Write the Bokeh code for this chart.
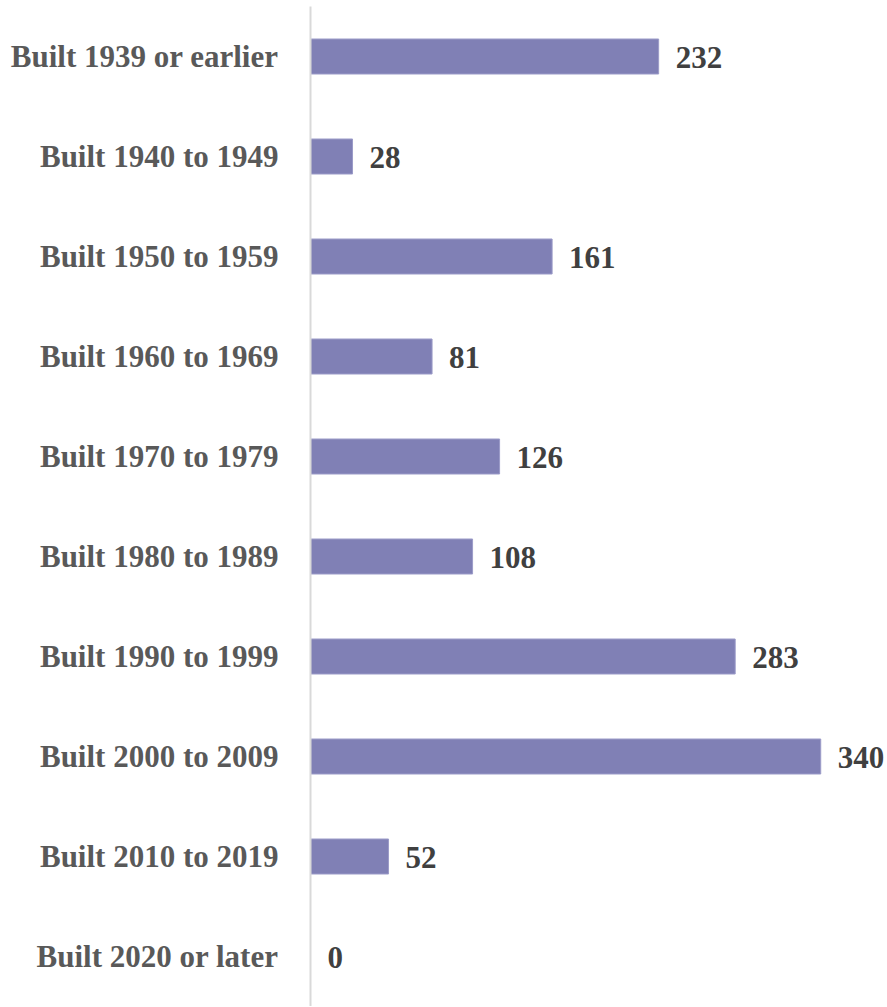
from bokeh.plotting import figure
from bokeh.models import FactorRange, Range1d, ColumnDataSource
from bokeh.core.properties import value
from bokeh.embed import file_html
from bokeh.resources import INLINE

categories = ["Built 1939 or earlier", "Built 1940 to 1949", "Built 1950 to 1959",
              "Built 1960 to 1969", "Built 1970 to 1979", "Built 1980 to 1989",
              "Built 1990 to 1999", "Built 2000 to 2009", "Built 2010 to 2019",
              "Built 2020 or later"]
counts = [232, 28, 161, 81, 126, 108, 283, 340, 52, 0]
labels = [str(v) for v in counts]

src = ColumnDataSource(dict(cat=categories, val=counts, lab=labels))

p = figure(width=887, height=1006, output_backend="svg", toolbar_location=None,
           y_range=FactorRange(*reversed(categories)), x_range=Range1d(0, 384.5),
           min_border_left=310, min_border_right=0, min_border_top=6, min_border_bottom=0)
p.outline_line_color = None
p.background_fill_color = "white"
p.border_fill_color = "white"
p.grid.visible = False
p.xaxis.visible = False

p.hbar(y="cat", right="val", left=0, height=0.35, source=src,
       fill_color="#8080B5", line_color="#9b9bc8", line_width=1)

p.text(x="val", y="cat", text="lab", source=src, x_offset=17, y_offset=1,
       text_align="left", text_baseline="middle",
       text_font=value("Liberation Serif"), text_font_style="bold",
       text_font_size="31px", text_color="#404040")

yax = p.yaxis[0]
yax.axis_line_color = "#d9d9d9"
yax.axis_line_width = 2
yax.major_tick_line_color = None
yax.minor_tick_line_color = None
yax.major_label_standoff = 26
yax.major_label_text_font = "Liberation Serif"
yax.major_label_text_font_style = "bold"
yax.major_label_text_font_size = "31px"
yax.major_label_text_color = "#595959"

open("out.html", "w").write(file_html(p, INLINE))
